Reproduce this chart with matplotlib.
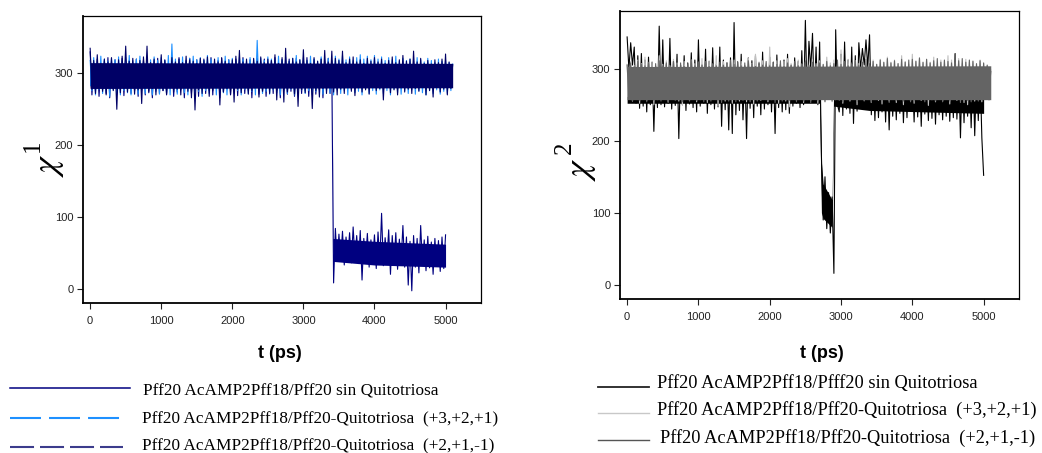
import numpy as np
import matplotlib.pyplot as plt
from matplotlib.lines import Line2D

plt.rcParams['font.family'] = ['Liberation Sans', 'DejaVu Sans']
plt.rcParams['mathtext.fontset'] = 'stix'
plt.rcParams['lines.scale_dashes'] = False

DT = 25  # ps between listed samples (alternating local max / local min)

# chi1, left panel
chi1_s1 = [330, 270, 314, 276, 320, 268, 312, 278, 318, 272, 322, 266, 315, 280, 319, 271, 313, 277, 321, 269,
           316, 279, 318, 272, 314, 276, 320, 268, 315, 281, 319, 270, 322, 275, 314, 266, 318, 279, 321, 272,
           315, 276, 319, 270, 313, 280, 320, 268, 316, 274, 322, 278, 314, 266, 318, 280, 321, 272, 315, 276,
           319, 268, 314, 279, 320, 272, 316, 276, 322, 270, 313, 281, 318, 266, 321, 274, 315, 278, 319, 270,
           314, 277, 320, 269, 316, 280, 322, 272, 313, 276, 319, 266, 315, 279, 321, 271, 316, 275, 320, 268,
           314, 280, 318, 272, 322, 276, 315, 266, 319, 279, 313, 271, 320, 275, 316, 268, 321, 278, 314, 272,
           318, 276, 322, 268, 315, 280, 319, 271, 314, 277, 320, 266, 316, 279, 321, 272, 300, 8, 84, 38,
           76, 40, 80, 33, 72, 44, 78, 36, 86, 42, 74, 35, 81, 12, 70, 38, 77, 30, 68, 41,
           75, 28, 79, 37, 105, 32, 71, 40, 82, 20, 74, 35, 78, 27, 69, 38, 88, 30, 72, 5,
           66, -3, 74, 30, 70, 22, 88, 34, 68, 25, 73, 29, 65, 20, 70, 31, 67, 24, 72, 28,
           75]
chi1_s2 = [318, 276, 322, 270, 316, 278, 324, 272, 320, 275, 317, 268, 321, 277, 319, 272, 323, 270, 318, 276,
           322, 273, 325, 270, 318, 277, 320, 271, 324, 276, 317, 272, 321, 278, 319, 270, 323, 275, 318, 271,
           322, 277, 318, 272, 325, 270, 341, 276, 320, 271, 318, 277, 323, 273, 317, 270, 321, 276, 324, 272,
           319, 275, 322, 268, 318, 276, 325, 272, 320, 278, 316, 270, 322, 275, 318, 273, 324, 270, 319, 277,
           321, 272, 318, 276, 323, 270, 320, 278, 317, 272, 322, 275, 319, 270, 346, 277, 321, 272, 318, 275,
           323, 271, 320, 277, 318, 273, 324, 270, 319, 276, 322, 272, 317, 278, 321, 270, 325, 274, 319, 277,
           322, 272, 318, 276, 324, 270, 320, 275, 317, 278, 323, 271, 319, 276, 321, 273, 318, 270, 324, 277,
           320, 272, 325, 276, 319, 270, 323, 277, 318, 273, 322, 275, 326, 270, 320, 278, 324, 272, 319, 276,
           325, 271, 320, 277, 323, 272, 318, 276, 322, 270, 319, 278, 324, 273, 317, 271, 321, 276, 318, 272,
           320, 277, 317, 271, 322, 276, 319, 273, 316, 270, 321, 276, 318, 272, 315, 277, 320, 271, 317, 275,
           318, 272, 315, 276, 313]
chi1_s3 = [335, 278, 318, 272, 326, 280, 314, 275, 320, 270, 316, 282, 322, 276, 312, 250, 319, 273, 324, 279,
           338, 274, 317, 281, 321, 271, 313, 277, 318, 258, 323, 280, 338, 273, 315, 279, 320, 270, 314, 282,
           326, 276, 318, 271, 312, 280, 322, 274, 316, 278, 320, 270, 315, 281, 324, 275, 319, 266, 317, 249,
           314, 277, 321, 272, 318, 280, 323, 268, 313, 276, 320, 281, 316, 256, 322, 274, 317, 279, 314, 271,
           319, 260, 324, 278, 332, 273, 316, 280, 320, 271, 313, 276, 321, 282, 317, 267, 323, 275, 315, 279,
           320, 272, 318, 278, 326, 263, 314, 280, 322, 260, 335, 274, 317, 279, 321, 271, 316, 254, 319, 277,
           333, 273, 318, 281, 314, 251, 322, 276, 317, 267, 320, 279, 332, 272, 316, 280, 331, 274, 321, 270,
           318, 278, 331, 272, 315, 281, 320, 275, 323, 269, 316, 280, 319, 274, 314, 277, 321, 271, 317, 282,
           322, 276, 316, 279, 320, 263, 314, 281, 318, 273, 323, 277, 315, 270, 319, 280, 325, 274, 317, 278,
           320, 272, 331, 279, 316, 275, 321, 281, 314, 270, 318, 276, 313, 267, 319, 280, 315, 274, 320, 278,
           327, 270, 316, 279, 312]
# dense body of each band (t in ps)
core1_s1_t = [0, 3405, 3415, 4000, 5000]
core1_s1_lo = [281, 281, 38, 33, 30]
core1_s1_hi = [313, 313, 70, 66, 62]
core1_s2_t = [0, 5100]
core1_s2_lo = [282, 282]
core1_s2_hi = [312, 312]
core1_s3_t = [0, 5100]
core1_s3_lo = [279, 280]
core1_s3_hi = [315, 314]

# chi2, right panel
chi2_s1 = [344, 300, 336, 305, 330, 252, 318, 245, 321, 248, 312, 240, 316, 250, 309, 213, 303, 246, 359, 250,
           340, 247, 306, 252, 342, 244, 310, 249, 320, 203, 305, 250, 318, 242, 308, 251, 322, 246, 312, 240,
           340, 248, 305, 252, 327, 238, 310, 250, 329, 244, 306, 247, 330, 220, 312, 243, 308, 215, 315, 210,
           364, 236, 309, 242, 320, 229, 304, 203, 315, 245, 311, 232, 318, 248, 307, 236, 323, 244, 305, 250,
           316, 240, 309, 210, 319, 246, 306, 240, 312, 243, 320, 238, 304, 248, 315, 252, 310, 246, 325, 250,
           367, 255, 338, 300, 349, 260, 330, 250, 337, 178, 90, 150, 78, 128, 72, 122, 16, 354, 250, 240,
           320, 235, 337, 244, 312, 238, 330, 224, 318, 241, 336, 300, 328, 305, 340, 302, 347, 236, 305, 228,
           300, 232, 296, 240, 302, 226, 298, 215, 301, 234, 295, 229, 299, 238, 303, 225, 297, 232, 300, 241,
           296, 226, 301, 233, 298, 220, 303, 237, 295, 228, 300, 231, 297, 223, 302, 236, 299, 229, 296, 234,
           301, 227, 298, 232, 321, 230, 296, 204, 300, 225, 297, 234, 299, 218, 302, 207, 296, 228, 300, 204,
           152]
chi2_s2 = [306, 258, 310, 255, 304, 260, 312, 252, 307, 259, 316, 256, 305, 261, 309, 250, 303, 257, 318, 258,
           306, 260, 311, 254, 304, 258, 313, 262, 308, 255, 305, 249, 310, 259, 303, 256, 312, 260, 307, 254,
           309, 257, 314, 261, 305, 253, 311, 258, 306, 260, 318, 248, 304, 257, 310, 255, 307, 261, 303, 252,
           312, 258, 306, 255, 310, 261, 304, 254, 315, 259, 307, 251, 320, 260, 305, 256, 311, 262, 308, 254,
           330, 257, 306, 261, 311, 252, 304, 259, 310, 255, 314, 247, 307, 260, 305, 256, 312, 258, 306, 253,
           309, 259, 304, 256, 313, 261, 307, 252, 311, 258, 305, 255, 316, 260, 308, 254, 312, 257, 306, 261,
           326, 252, 309, 259, 313, 255, 306, 261, 311, 250, 307, 258, 315, 256, 310, 260, 305, 253, 312, 259,
           306, 256, 313, 251, 308, 259, 316, 255, 309, 261, 312, 253, 307, 258, 318, 250, 310, 260, 306, 255,
           320, 252, 311, 259, 314, 256, 308, 261, 313, 249, 309, 257, 316, 254, 307, 260, 312, 255, 310, 258,
           318, 251, 312, 259, 308, 256, 314, 261, 307, 253, 313, 250, 309, 258, 311, 255, 306, 260, 312, 254,
           307, 258, 304, 256, 298]
chi2_s3 = [305, 258, 308, 255, 303, 260, 310, 256, 306, 262, 304, 254, 309, 259, 302, 256, 307, 261, 311, 255,
           304, 258, 308, 253, 303, 260, 310, 256, 305, 259, 308, 254, 303, 261, 307, 255, 312, 258, 304, 256,
           309, 262, 305, 254, 310, 259, 303, 255, 307, 261, 304, 256, 309, 253, 305, 260, 308, 255, 312, 258,
           306, 254, 310, 260, 304, 256, 308, 259, 311, 254, 306, 260, 303, 255, 309, 258, 305, 262, 310, 256,
           304, 259, 309, 253, 306, 261, 311, 255, 303, 258, 308, 256, 305, 262, 310, 254, 304, 259, 307, 255,
           311, 257, 305, 253, 309, 260, 303, 256, 308, 259, 306, 254, 310, 261, 304, 255, 307, 258, 312, 256,
           306, 254, 310, 260, 304, 256, 308, 259, 311, 254, 305, 260, 309, 255, 313, 258, 307, 253, 310, 259,
           306, 260, 312, 255, 309, 258, 314, 253, 308, 259, 311, 256, 307, 261, 313, 255, 309, 257, 312, 254,
           313, 255, 310, 261, 315, 256, 309, 254, 313, 260, 308, 257, 311, 255, 314, 259, 309, 254, 312, 258,
           310, 255, 308, 260, 320, 258, 311, 253, 314, 259, 309, 256, 312, 254, 310, 260, 307, 255, 311, 258,
           308, 258, 305, 261, 296]
core2_s1_t = [0, 2700, 2725, 2750, 2875, 2900, 3400, 5000]
core2_s1_lo = [252, 252, 100, 92, 80, 248, 242, 238]
core2_s1_hi = [300, 300, 170, 140, 118, 300, 295, 290]
core2_s2_t = [0, 5100]
core2_s2_lo = [260, 260]
core2_s2_hi = [300, 300]
core2_s3_t = [0, 5100]
core2_s3_lo = [257, 257]
core2_s3_hi = [303, 304]

labels_left = ['Pff20 AcAMP2Pff18/Pff20 sin Quitotriosa',
               'Pff20 AcAMP2Pff18/Pff20-Quitotriosa  (+3,+2,+1)',
               'Pff20 AcAMP2Pff18/Pff20-Quitotriosa  (+2,+1,-1)']
labels_right = ['Pff20 AcAMP2Pff18/Pfff20 sin Quitotriosa',
                'Pff20 AcAMP2Pff18/Pff20-Quitotriosa  (+3,+2,+1)',
                'Pff20 AcAMP2Pff18/Pff20-Quitotriosa  (+2,+1,-1)']
colors_left = ['#000080', '#1E90FF', '#000066']
colors_right = ['#000000', '#c0c0c0', '#646464']

fig = plt.figure(figsize=(10.42, 4.53), dpi=100)
ax1 = fig.add_axes([0.0797, 0.3311, 0.3820, 0.6336])
ax2 = fig.add_axes([0.5950, 0.3393, 0.3832, 0.6364])


def draw(ax, series, cores, colors):
    # each later series sits fully on top of the earlier ones
    for i, (vals, (ct, clo, chi), c) in enumerate(zip(series, cores, colors)):
        ax.fill_between(ct, clo, chi, color=c, lw=0, zorder=1 + 0.3 * i)
        t = np.arange(len(vals)) * DT
        ax.plot(t, vals, color=c, lw=0.8, zorder=1.1 + 0.3 * i)


draw(ax1, [chi1_s1, chi1_s2, chi1_s3],
     [(core1_s1_t, core1_s1_lo, core1_s1_hi),
      (core1_s2_t, core1_s2_lo, core1_s2_hi),
      (core1_s3_t, core1_s3_lo, core1_s3_hi)], colors_left)
draw(ax2, [chi2_s1, chi2_s2, chi2_s3],
     [(core2_s1_t, core2_s1_lo, core2_s1_hi),
      (core2_s2_t, core2_s2_lo, core2_s2_hi),
      (core2_s3_t, core2_s3_lo, core2_s3_hi)], colors_right)

for ax in (ax1, ax2):
    ax.set_xlim(-100, 5500)
    ax.set_ylim(-20, 380)
    ax.set_xticks(range(0, 5001, 1000))
    ax.set_yticks([0, 100, 200, 300])
    ax.tick_params(direction='out', length=4, width=0.8, labelsize=8,
                   colors='#222222', pad=3)
    ax.tick_params(axis='x', pad=5)
    for s in ax.spines.values():
        s.set_linewidth(0.9)
    ax.spines['left'].set_linewidth(1.3)
    ax.spines['bottom'].set_linewidth(1.3)

W, H = 1042, 453
fig.text(280 / W, 1 - 354 / H, 't (ps)', fontsize=13, fontweight='bold',
         ha='center', va='center')
fig.text(822 / W, 1 - 354 / H, 't (ps)', fontsize=13, fontweight='bold',
         ha='center', va='center')

# y labels: chi with a raised index
serif = ['Liberation Serif', 'DejaVu Serif']
fig.text(48 / W, 1 - 165 / H, r'$\chi$', fontsize=26,
         rotation=90, ha='center', va='center')
fig.text(33 / W, 1 - 146 / H, '1', family=serif, fontsize=18,
         rotation=90, ha='center', va='center')
fig.text(580 / W, 1 - 169 / H, r'$\chi$', fontsize=26,
         rotation=90, ha='center', va='center')
fig.text(565 / W, 1 - 148 / H, '2', family=serif, fontsize=18,
         rotation=90, ha='center', va='center')

# legends
leg_left = [((10, 130), 388, colors_left[0], 1.1, '-'),
            ((10, 120), 417.7, colors_left[1], 1.5, (0, (22.3, 5.8))),
            ((10, 123), 446.7, '#3c3c8c', 1.5, (0, (17.3, 4.3)))]
for (x0, x1), y, c, lw, ls in leg_left:
    fig.add_artist(Line2D([x0 / W, x1 / W], [1 - y / H, 1 - y / H], color=c,
                          lw=lw, linestyle=ls, transform=fig.transFigure))
for lab, x, y in zip(labels_left, [143, 142, 142], [395, 423, 450]):
    fig.text(x / W, 1 - y / H, lab, family=serif, fontsize=12.4, va='baseline')

leg_right = [(387.3, '#222222', 1.3), (413, '#c8c8c8', 1.0), (440, '#555555', 1.0)]
for y, c, lw in leg_right:
    fig.add_artist(Line2D([598 / W, 649 / W], [1 - y / H, 1 - y / H], color=c,
                          lw=lw, transform=fig.transFigure))
for lab, x, y in zip(labels_right, [657, 657, 660], [388.3, 415, 443.3]):
    fig.text(x / W, 1 - y / H, lab, family=serif, fontsize=13.2, va='baseline')

fig.savefig('out.png', dpi=100)
